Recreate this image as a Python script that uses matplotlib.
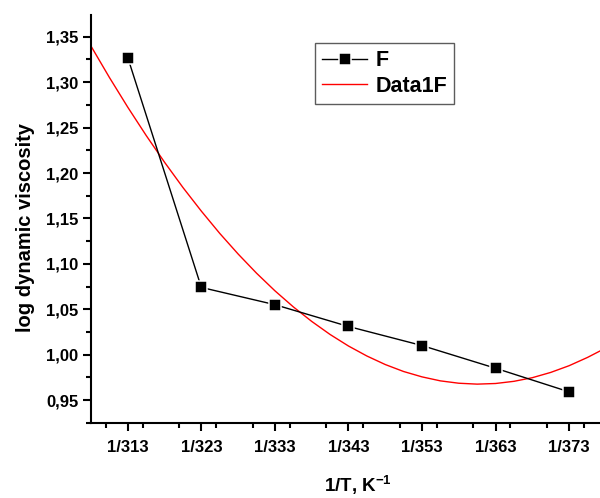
import matplotlib
matplotlib.use("Agg")
import matplotlib.pyplot as plt
from matplotlib.ticker import MultipleLocator, FuncFormatter

plt.rcParams['font.family'] = ['Liberation Sans', 'DejaVu Sans']
plt.rcParams['font.weight'] = 'bold'
plt.rcParams['mathtext.fontset'] = 'custom'
plt.rcParams['mathtext.rm'] = 'Liberation Sans:bold'
plt.rcParams['mathtext.bf'] = 'Liberation Sans:bold'

# temperatures (K), plotted as 1/T categories
temps = [313, 323, 333, 343, 353, 363, 373]
f_values = [1.327, 1.074, 1.055, 1.031, 1.010, 0.985, 0.959]

# fitted curve (Data1F)
fit_x = [308.0, 310.5, 313.0, 315.5, 318.0, 320.5, 323.0, 325.5, 328.0, 330.5,
         333.0, 335.5, 338.0, 340.5, 343.0, 345.5, 348.0, 350.5, 353.0, 355.5,
         358.0, 360.5, 363.0, 365.5, 368.0, 370.5, 373.0, 375.5, 377.2]
fit_y = [1.3397, 1.3052, 1.2724, 1.2413, 1.2118, 1.1840, 1.1580, 1.1335, 1.1108, 1.0897,
         1.0703, 1.0526, 1.0366, 1.0222, 1.0095, 0.9985, 0.9891, 0.9814, 0.9755, 0.9711,
         0.9685, 0.9675, 0.9682, 0.9706, 0.9746, 0.9804, 0.9878, 0.9969, 1.0040]

fig = plt.figure(figsize=(6, 4.98), dpi=100)
ax = fig.add_axes([0.1517, 0.1506, 0.8483, 0.8193])

# white marker edge leaves the small gap Origin draws around symbols
ax.plot(temps, f_values, color='black', linewidth=1, marker='s', markersize=8.5,
        markerfacecolor='black', markeredgecolor='white', markeredgewidth=1.1,
        label='F', zorder=3)
ax.plot(fit_x, fit_y, color='red', linewidth=1, label='Data1F', zorder=2)

ax.set_xlim(308, 377.2)
ax.set_ylim(0.9247, 1.374)

ax.set_xticks(temps)
ax.set_xticklabels([f"1/{t}" for t in temps])
ax.xaxis.set_minor_locator(MultipleLocator(5))
ax.yaxis.set_major_locator(MultipleLocator(0.05))
ax.yaxis.set_minor_locator(MultipleLocator(0.025))
ax.yaxis.set_major_formatter(FuncFormatter(lambda v, p: f"{v:.2f}".replace('.', ',')))

for s in ['top', 'right']:
    ax.spines[s].set_visible(False)
for s in ['left', 'bottom']:
    ax.spines[s].set_linewidth(1.5)

ax.tick_params(which='major', direction='out', length=6, width=1.5, labelsize=12, pad=3)
ax.tick_params(which='minor', direction='out', length=3.5, width=1.5)
ax.tick_params(axis='x', which='major', pad=6)
for lbl in ax.get_xticklabels() + ax.get_yticklabels():
    lbl.set_fontweight('bold')

ax.set_ylabel('log dynamic viscosity', fontsize=14.5, fontweight='bold')
ax.yaxis.set_label_coords(-0.11, 0.48)
ax.set_xlabel(r'1/T, K$^{\mathbf{-1}}$', fontsize=13.5, fontweight='bold')
ax.xaxis.set_label_coords(0.5236, -0.122)

leg = ax.legend(loc='upper left', bbox_to_anchor=(0.440, 0.931), borderaxespad=0,
                fontsize=15.5, frameon=True, fancybox=False, edgecolor='#333333',
                handlelength=2.1, borderpad=0.33, labelspacing=0.22, handletextpad=0.38)
leg.get_frame().set_linewidth(1)
for t in leg.get_texts():
    t.set_fontweight('bold')

fig.savefig('out.png', dpi=100)
